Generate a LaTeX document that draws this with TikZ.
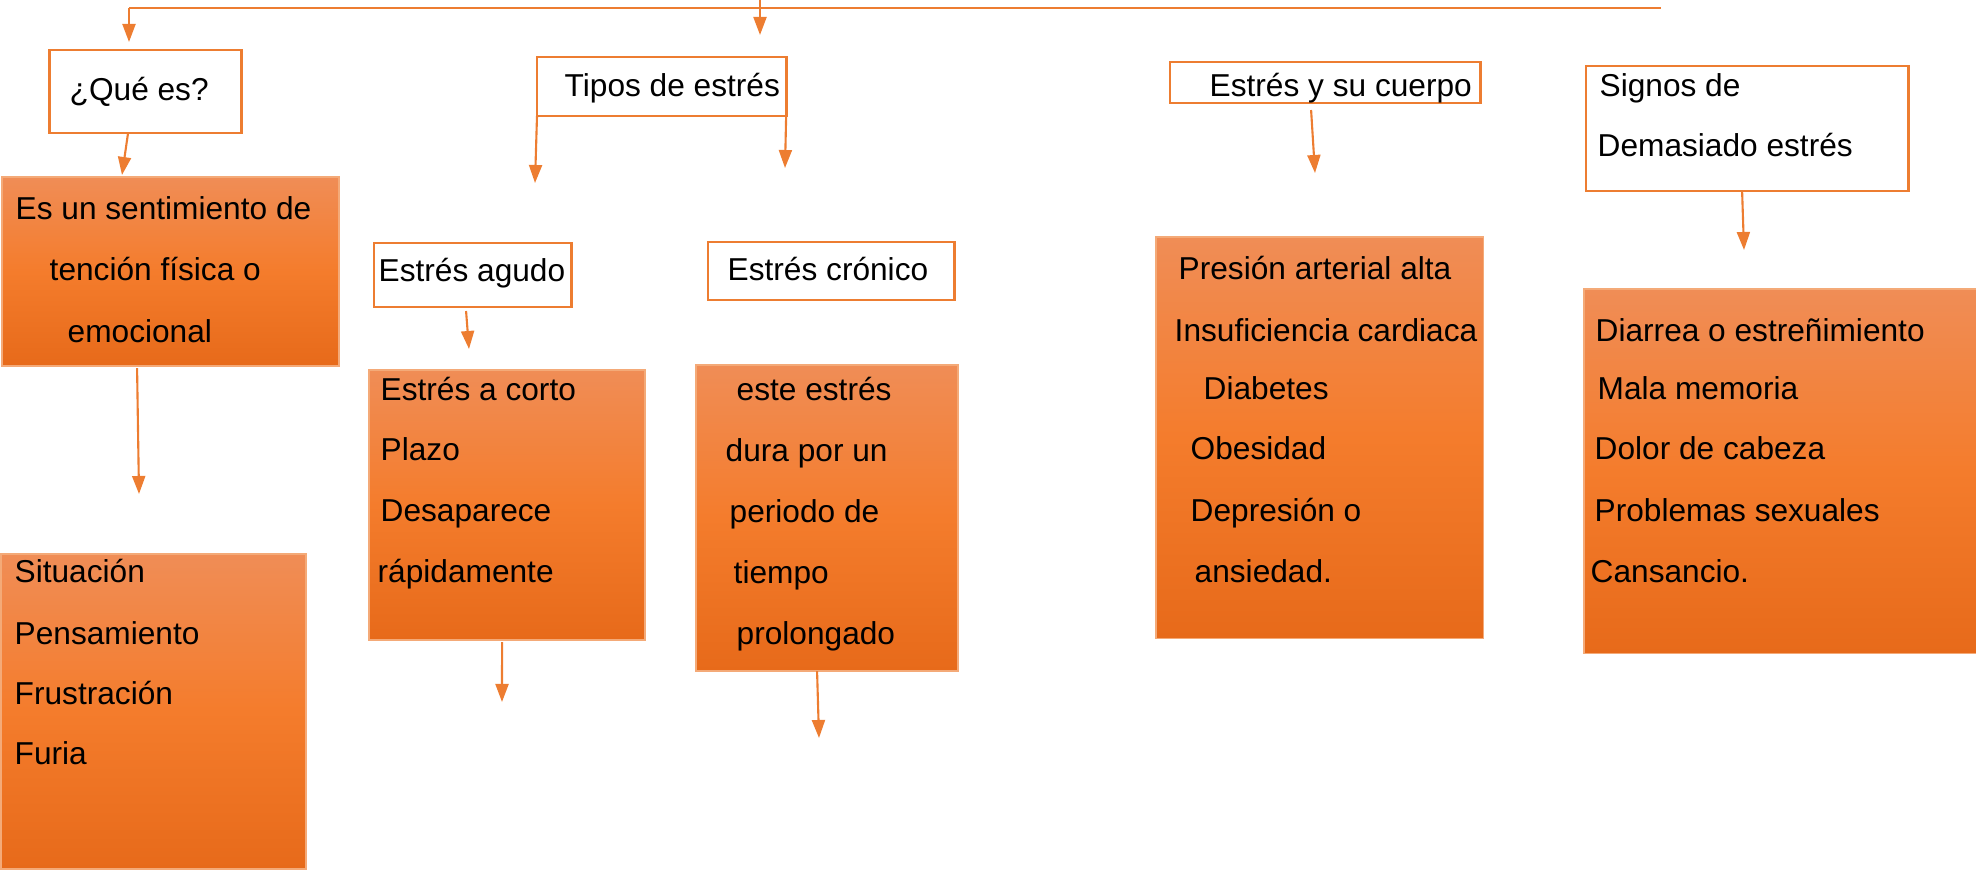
\documentclass[tikz,border=0pt]{standalone}
\usepackage{fontspec}
\setmainfont{Liberation Sans}
\usetikzlibrary{arrows.meta}

\definecolor{naranja}{RGB}{237,125,49}
\definecolor{naranjaclaro}{RGB}{244,170,120}
\definecolor{grtop}{RGB}{240,141,86}
\definecolor{grmid}{RGB}{244,124,44}
\definecolor{grbot}{RGB}{231,106,26}

\begin{document}
\begin{tikzpicture}[x=0.01cm, y=-0.01cm,
	caja/.style={draw=naranja, line width=0.8pt, anchor=north west, inner sep=0pt, outer sep=0pt},
	lleno/.style={draw=naranjaclaro, line width=0.4pt, top color=grtop, bottom color=grbot, middle color=grmid, anchor=north west, inner sep=0pt, outer sep=0pt},
	txt/.style={anchor=west, inner sep=0pt, text height=0.22cm, text depth=0cm, font=\fontsize{9}{11}\selectfont},
	flecha/.style={draw=naranja, line width=0.6pt, -{Triangle[length=0.18cm, width=0.13cm]}},
	linea/.style={draw=naranja, line width=0.57pt}]
	\useasboundingbox (0,0) rectangle (1976,874);

	% cajas de titulo
	\node[caja, minimum width=1.915cm, minimum height=0.83cm] (que) at (49.5,50) {};
	\node[caja, minimum width=2.49cm, minimum height=0.59cm] (tipos) at (537,57) {};
	\node[caja, minimum width=3.10cm, minimum height=0.41cm] (cuerpo) at (1170,62) {};
	\node[caja, minimum width=3.22cm, minimum height=1.25cm] (signos) at (1586,66) {};
	\node[caja, minimum width=1.97cm, minimum height=0.64cm] (agudo) at (374,243) {};
	\node[caja, minimum width=2.46cm, minimum height=0.58cm] (cronico) at (708,242) {};

	\node[txt] (que-t) at (69,90) {¿Qué es?};
	\node[txt] (tipos-t) at (564,86) {Tipos de estrés};
	\node[txt] (cuerpo-t) at (1209,86) {Estrés y su cuerpo};
	\node[txt] (signos-t1) at (1599,86) {Signos de};
	\node[txt] (signos-t2) at (1597,146) {Demasiado estrés};
	\node[txt] (agudo-t) at (378,271) {Estrés agudo};
	\node[txt] (cronico-t) at (727,270) {Estrés crónico};

	% cajas rellenas
	\node[lleno, minimum width=3.37cm, minimum height=1.89cm] (sent) at (2,177) {};
	\node[lleno, minimum width=3.05cm, minimum height=3.15cm] (situ) at (1,554) {};
	\node[lleno, minimum width=2.76cm, minimum height=2.70cm] (corto) at (369,370) {};
	\node[lleno, minimum width=2.62cm, minimum height=3.06cm] (dura) at (696,365) {};
	\node[lleno, minimum width=3.27cm, minimum height=4.01cm] (presion) at (1156,237) {};
	\node[lleno, minimum width=3.92cm, minimum height=3.64cm] (diarrea) at (1584,289) {};

	\node[txt] (sent-t1) at (15,209) {Es un sentimiento de};
	\node[txt] (sent-t2) at (49,270) {tención física o};
	\node[txt] (sent-t3) at (67,332) {emocional};

	\node[txt] (situ-t1) at (14,572) {Situación};
	\node[txt] (situ-t2) at (14,633) {Pensamiento};
	\node[txt] (situ-t3) at (14,694) {Frustración};
	\node[txt] (situ-t4) at (14,754) {Furia};

	\node[txt] (corto-t1) at (380,390) {Estrés a corto};
	\node[txt] (corto-t2) at (380,450) {Plazo};
	\node[txt] (corto-t3) at (380,511) {Desaparece};
	\node[txt] (corto-t4) at (377,572) {rápidamente};

	\node[txt] (dura-t1) at (736,390) {este estrés};
	\node[txt] (dura-t2) at (725,451) {dura por un};
	\node[txt] (dura-t3) at (729,512) {periodo de};
	\node[txt] (dura-t4) at (733,573) {tiempo};
	\node[txt] (dura-t5) at (736,633) {prolongado};

	\node[txt] (presion-t1) at (1178,269) {Presión arterial alta};
	\node[txt] (presion-t2) at (1174,331) {Insuficiencia cardiaca};
	\node[txt] (presion-t3) at (1203,389) {Diabetes};
	\node[txt] (presion-t4) at (1190,449) {Obesidad};
	\node[txt] (presion-t5) at (1190,511) {Depresión o};
	\node[txt] (presion-t6) at (1194,572) {ansiedad.};

	\node[txt] (diarrea-t1) at (1595,331) {Diarrea o estreñimiento};
	\node[txt] (diarrea-t2) at (1597,389) {Mala memoria};
	\node[txt] (diarrea-t3) at (1594,449) {Dolor de cabeza};
	\node[txt] (diarrea-t4) at (1594,511) {Problemas sexuales};
	\node[txt] (diarrea-t5) at (1590,572) {Cansancio.};

	% conectores
	\coordinate (izq) at (129,8);
	\coordinate (der) at (1661,8);
	\coordinate (arr) at (760,0);
	\draw[linea] (izq) -- (der);

	\coordinate (p1) at (129,42);
	\coordinate (p2) at (760,35);
	\coordinate (p3) at (122,175);
	\coordinate (p4) at (535,183);
	\coordinate (p5) at (785,168);
	\coordinate (p6) at (1315,173);
	\coordinate (p7) at (1744,250);
	\coordinate (p8) at (139,494);
	\coordinate (p9) at (469,349);
	\coordinate (p10) at (502,702);
	\coordinate (p11) at (819,738);

	\draw[flecha] (izq) -- (p1);
	\draw[flecha] (arr) -- (p2);
	\draw[flecha] ([xshift=-0.1725cm]que.south) -- (p3);
	\draw[flecha] (tipos.south west) -- (p4);
	\draw[flecha] (tipos.south east) -- (p5);
	\draw[flecha] ([xshift=-0.14cm, yshift=-0.07cm]cuerpo.south) -- (p6);
	\draw[flecha] ([xshift=-0.05cm]signos.south) -- (p7);
	\draw[flecha] ([xshift=-0.335cm, yshift=-0.02cm]sent.south) -- (p8);
	\draw[flecha] ([xshift=-0.065cm, yshift=-0.04cm]agudo.south) -- (p9);
	\draw[flecha] ([xshift=-0.05cm, yshift=-0.02cm]corto.south) -- (p10);
	\draw[flecha] ([xshift=-0.10cm]dura.south) -- (p11);
\end{tikzpicture}
\end{document}
